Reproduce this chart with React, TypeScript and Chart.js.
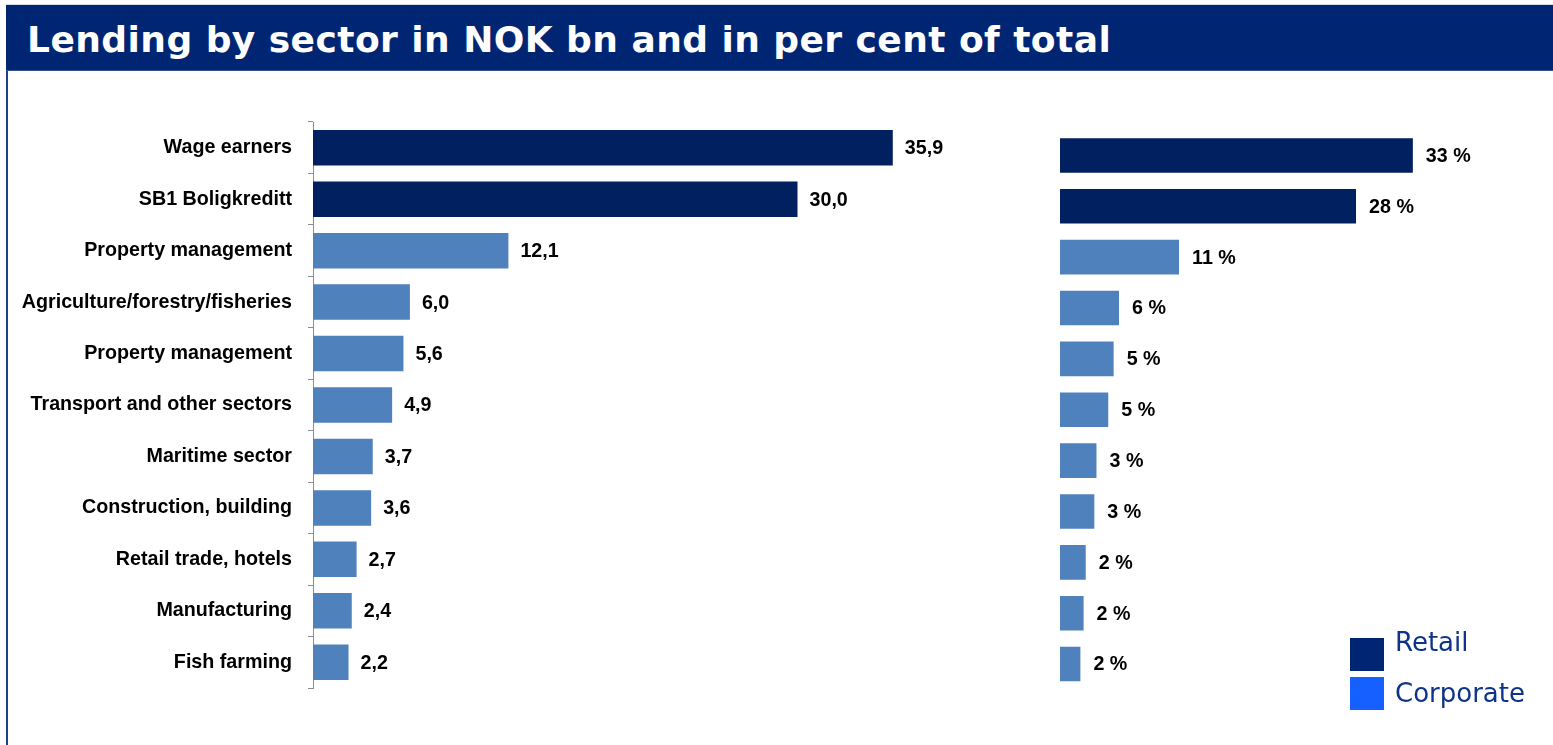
import React, { useEffect, useRef } from "react";
import { Chart, registerables } from "chart.js";

Chart.register(...registerables);

// ---- Data ----
const titleText = "Lending by sector in NOK bn and in per cent of total";
const categories = [
  "Wage earners",
  "SB1 Boligkreditt",
  "Property management",
  "Agriculture/forestry/fisheries",
  "Property management",
  "Transport and other sectors",
  "Maritime sector",
  "Construction, building",
  "Retail trade, hotels",
  "Manufacturing",
  "Fish farming",
];
const segments = [
  "Retail",
  "Retail",
  "Corporate",
  "Corporate",
  "Corporate",
  "Corporate",
  "Corporate",
  "Corporate",
  "Corporate",
  "Corporate",
  "Corporate",
];
const lendingNOKbn = [35.9, 30.0, 12.1, 6.0, 5.6, 4.9, 3.7, 3.6, 2.7, 2.4, 2.2];
const shareOfTotalPct = [32.9, 27.6, 11.1, 5.5, 5.0, 4.5, 3.4, 3.2, 2.4, 2.2, 1.9];
const legendLabels = ["Retail", "Corporate"];

// ---- Styles ----
const barColors: Record<string, string> = { Retail: "#00205f", Corporate: "#4f81bd" };
const legendColors: Record<string, string> = { Retail: "#002673", Corporate: "#1560ff" };
const labelFont = "'Liberation Sans', Arial, sans-serif";
const labelSize = 19.7;

const valueLabelPlugin = {
  id: "valueLabels",
  afterDatasetsDraw(chart: any, _args: any, opts: any) {
    const { ctx } = chart;
    const ds = chart.data.datasets[0];
    const meta = chart.getDatasetMeta(0);
    ctx.save();
    ctx.font = opts.font;
    ctx.fillStyle = opts.color;
    ctx.textAlign = "left";
    ctx.textBaseline = "middle";
    meta.data.forEach((el: any, i: number) => {
      ctx.fillText(opts.format(ds.data[i]), el.x + opts.offset, el.y + 1);
    });
    ctx.restore();
  },
};

function useBarChart(
  ref: React.RefObject<HTMLCanvasElement | null>,
  values: number[],
  showAxis: boolean,
  padding: { top: number; bottom: number; left: number; right: number },
  barPct: number,
  format: (v: number) => string,
  offset: number
) {
  useEffect(() => {
    if (!ref.current) return;
    const chart = new Chart(ref.current, {
      type: "bar",
      data: {
        labels: categories,
        datasets: [
          {
            data: values,
            backgroundColor: segments.map((s) => barColors[s]),
            borderWidth: 0,
            categoryPercentage: 1,
            barPercentage: barPct,
          },
        ],
      },
      plugins: [valueLabelPlugin as any],
      options: {
        indexAxis: "y",
        animation: false,
        responsive: true,
        maintainAspectRatio: false,
        layout: { padding },
        scales: {
          x: { display: false, min: 0, max: 40 },
          y: showAxis
            ? {
                display: true,
                grid: {
                  display: true,
                  drawOnChartArea: false,
                  drawTicks: true,
                  tickLength: 5,
                  color: "#8c8c8c",
                  offset: true,
                },
                border: { display: true, color: "#8c8c8c", width: 1 },
                ticks: {
                  color: "#000000",
                  font: { family: labelFont, size: labelSize, weight: "bold" },
                  padding: 16,
                  autoSkip: false,
                },
                afterFit: (s: any) => {
                  s.width = 313;
                },
              }
            : { display: false },
        },
        plugins: {
          legend: { display: false },
          tooltip: { enabled: false },
          valueLabels: {
            font: `bold ${labelSize}px ${labelFont}`,
            color: "#000000",
            format,
            offset,
          },
        } as any,
      },
    });
    return () => chart.destroy();
  }, []);
}

export default function App() {
  const leftRef = useRef<HTMLCanvasElement | null>(null);
  const rightRef = useRef<HTMLCanvasElement | null>(null);

  useBarChart(
    leftRef,
    lendingNOKbn,
    true,
    { top: 122, bottom: 57, left: 0, right: 41 },
    0.69,
    (v) => v.toFixed(1).replace(".", ","),
    12
  );
  useBarChart(
    rightRef,
    shareOfTotalPct,
    false,
    { top: 130, bottom: 55.5, left: 60, right: 64 },
    0.68,
    (v) => `${Math.round(v)} %`,
    13
  );

  return (
    <div
      style={{
        position: "absolute",
        left: 0,
        top: 0,
        width: 1553,
        height: 745,
        background: "#ffffff",
        overflow: "hidden",
      }}
    >
      <div style={{ position: "absolute", left: 6, top: 4, width: 1547, height: 1, background: "#d6dbe4" }} />
      <div
        style={{
          position: "absolute",
          left: 6,
          top: 5,
          width: 1547,
          height: 65,
          background: "#002673",
          borderBottom: "1px solid #34528f",
        }}
      />
      <div
        style={{
          position: "absolute",
          left: 27,
          top: 19,
          color: "#ffffff",
          fontFamily: "'DejaVu Sans', Verdana, sans-serif",
          fontWeight: "bold",
          fontSize: 36,
          lineHeight: "42px",
          letterSpacing: 0.45,
          whiteSpace: "nowrap",
        }}
      >
        {titleText}
      </div>
      <div style={{ position: "absolute", left: 6, top: 71, width: 2, height: 674, background: "#1f3f8f" }} />

      <div style={{ position: "absolute", left: 0, top: 0, width: 1000, height: 745 }}>
        <canvas ref={leftRef} />
      </div>
      <div style={{ position: "absolute", left: 1000, top: 0, width: 553, height: 745 }}>
        <canvas ref={rightRef} />
      </div>

      {legendLabels.map((lab, i) => (
        <React.Fragment key={lab}>
          <div
            style={{
              position: "absolute",
              left: 1350,
              top: 638 + i * 39,
              width: 34,
              height: 33,
              background: legendColors[lab],
            }}
          />
          <div
            style={{
              position: "absolute",
              left: 1395,
              top: 627 + i * 51,
              fontFamily: "'DejaVu Sans', Verdana, sans-serif",
              fontSize: 26,
              lineHeight: "30px",
              color: "#0d3488",
              whiteSpace: "nowrap",
            }}
          >
            {lab}
          </div>
        </React.Fragment>
      ))}
    </div>
  );
}
